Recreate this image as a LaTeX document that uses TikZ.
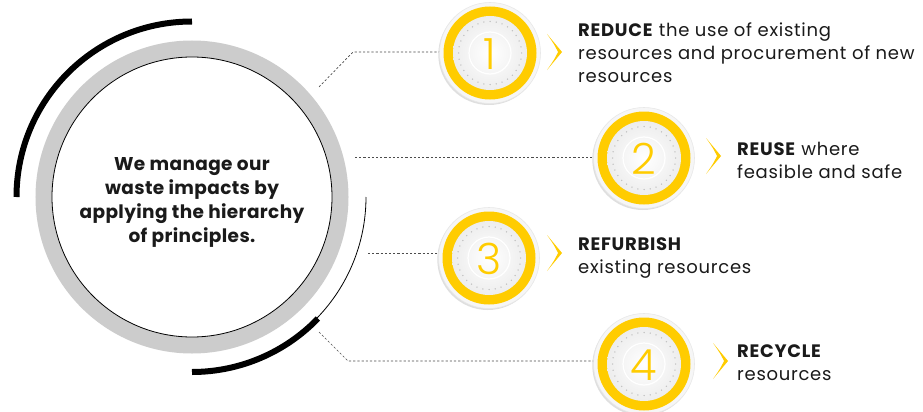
\documentclass[tikz,border=0pt]{standalone}
\usepackage{fontspec}
\setmainfont{Poppins}
\newfontfamily\numfont{Poppins Light}
\usetikzlibrary{calc,shadows}
\definecolor{yel}{HTML}{FFCC00}
\definecolor{ringgray}{HTML}{CCCCCC}
\definecolor{txt}{HTML}{1A1A1A}
\tikzset{
  conn/.style={draw=black!70, line width=0.7pt, dash pattern=on 2.2pt off 2pt},
  badgebg/.style={circle, minimum size=101pt, inner sep=0pt, fill=gray!7, draw=gray!18, line width=0.6pt,
     drop shadow={shadow xshift=-1.2pt, shadow yshift=-1.5pt, opacity=0.25, fill=gray}},
  numstyle/.style={text=yel, font=\numfont\fontsize{43}{43}\selectfont, inner sep=0pt},
  bodytxt/.style={text=txt, anchor=base west, align=left, inner sep=0pt, font=\addfontfeatures{LetterSpace=4}\fontsize{18}{23}\selectfont},
  centertxt/.style={text=txt, anchor=base, align=center, inner sep=0pt, font=\bfseries\addfontfeatures{LetterSpace=2}\fontsize{18.5}{24}\selectfont},
}
\newcommand\mybadge[3]{%
  \node[badgebg] (#1) at (#2) {};
  \fill[yel] (#2) circle (46.5);
  \shade[inner color=white, outer color=gray!14] (#2) circle (37);
  \foreach \a in {0,11.25,...,350} \fill[gray!50] ($(#2)+(\a:31.5)$) circle (0.75);
  \draw[white, line width=1.2pt] (#2) circle (21);
  \node[numstyle] (#1n) at ($(#2)+(0,-1)$) {#3};
}
\newcommand\mychev[2]{%
  \fill[yel] ($(#2)+(0,18)$) .. controls ($(#2)+(8,9)$) .. ($(#2)+(15,0)$)
     .. controls ($(#2)+(8,-9)$) .. ($(#2)+(0,-18)$)
     .. controls ($(#2)+(7,-8)$) .. ($(#2)+(11,0)$)
     .. controls ($(#2)+(7,8)$) .. cycle;
  \coordinate (#1) at (#2);
}
\begin{document}
\begin{tikzpicture}[x=1pt,y=1pt]
\useasboundingbox (0,0) rectangle (923,-412);
\fill[white] (0,0) rectangle (923,-412);
% main circle
\coordinate (C) at (192,-197);
\draw[ringgray, line width=16.5pt] (C) circle (148.25);
\node[circle, draw=black, line width=0.8pt, fill=white, minimum size=280pt, inner sep=0pt] (main) at (C) {};
\draw[black, line width=6pt] ($(C)+(90:175.5)$) arc[start angle=90, end angle=180, radius=175.5];
\draw[black, line width=6pt] ($(C)+(270:175)$) arc[start angle=270, end angle=316, radius=175];
\draw[black, line width=0.8pt] ($(C)+(0:174)$) arc[start angle=0, end angle=-44, radius=174];
\node[centertxt] (ctext) at (192,-242) {We manage our\\waste impacts by\\applying the hierarchy\\of principles.};
% connector points
\coordinate (s1) at (319,-87);
\coordinate (k1) at (353,-52);
\coordinate (s2) at (355,-157.5);
\coordinate (s3) at (368,-253);
\coordinate (s4) at (319,-332);
\coordinate (k4) at (348,-361);
% badge centres
\coordinate (p1) at (490,-53);
\coordinate (p2) at (644,-158);
\coordinate (p3) at (489,-258);
\coordinate (p4) at (644,-364);
\draw[conn] (s1) -- (k1) -- (k1 -| p1);
\draw[conn] (s2) -- (s2 -| p2);
\draw[conn] (s3) -- (s3 -| p3);
\draw[conn] (s4) -- (k4) -- (k4 -| p4);
\mybadge{b1}{p1}{1}
\mybadge{b2}{p2}{2}
\mybadge{b3}{p3}{3}
\mybadge{b4}{p4}{4}
\mychev{v1}{547,-52}
\mychev{v2}{706,-156}
\mychev{v3}{547,-253}
\mychev{v4}{713,-361}
\node[bodytxt] (t1) at (578,-82.7) {\textbf{REDUCE} the use of existing\\resources and procurement of new\\resources};
\node[bodytxt] (t2) at (737,-178) {\textbf{REUSE} where\\feasible and safe};
\node[bodytxt] (t3) at (578,-273) {\textbf{REFURBISH}\\existing resources};
\node[bodytxt] (t4) at (737,-380) {\textbf{RECYCLE}\\resources};
\end{tikzpicture}
\end{document}
